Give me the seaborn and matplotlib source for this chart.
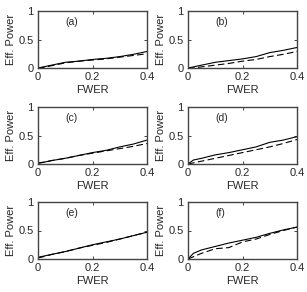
import numpy as np
import pandas as pd
import seaborn as sns
import matplotlib.pyplot as plt

# FWER grid shared by all panels
fwer = [0.0, 0.02, 0.05, 0.1, 0.15, 0.2, 0.25, 0.3, 0.35, 0.4]

# effective power, solid curve and dashed curve, per panel
solid_a = [0.0, 0.02, 0.05, 0.10, 0.12, 0.15, 0.17, 0.20, 0.24, 0.29]
dash_a = [0.0, 0.01, 0.04, 0.09, 0.12, 0.14, 0.16, 0.19, 0.22, 0.25]
solid_b = [0.0, 0.02, 0.05, 0.10, 0.13, 0.16, 0.20, 0.27, 0.31, 0.36]
dash_b = [0.0, 0.0, 0.02, 0.05, 0.08, 0.12, 0.15, 0.20, 0.24, 0.29]
solid_c = [0.02, 0.03, 0.06, 0.10, 0.15, 0.20, 0.24, 0.30, 0.35, 0.42]
dash_c = [0.01, 0.03, 0.06, 0.10, 0.15, 0.19, 0.23, 0.27, 0.31, 0.36]
solid_d = [0.0, 0.07, 0.10, 0.16, 0.20, 0.25, 0.30, 0.38, 0.42, 0.48]
dash_d = [0.0, 0.02, 0.05, 0.10, 0.15, 0.20, 0.25, 0.30, 0.36, 0.43]
solid_e = [0.03, 0.05, 0.08, 0.13, 0.19, 0.25, 0.30, 0.35, 0.41, 0.47]
dash_e = [0.02, 0.04, 0.08, 0.13, 0.19, 0.24, 0.29, 0.35, 0.41, 0.47]
solid_f = [0.0, 0.10, 0.16, 0.22, 0.28, 0.33, 0.38, 0.45, 0.51, 0.56]
dash_f = [0.0, 0.04, 0.10, 0.18, 0.20, 0.30, 0.35, 0.43, 0.50, 0.56]

panels = ["(a)", "(b)", "(c)", "(d)", "(e)", "(f)"]
solids = [solid_a, solid_b, solid_c, solid_d, solid_e, solid_f]
dashes = [dash_a, dash_b, dash_c, dash_d, dash_e, dash_f]

sns.set_style("white")
plt.rcParams["font.family"] = ["Liberation Sans", "DejaVu Sans"]
plt.rcParams["font.size"] = 8

fig = plt.figure(figsize=(3.07, 2.92), dpi=100)
W, H = 307, 292
lefts = [38, 188]
tops = [11, 107, 202]
aw, ah = 109, 57

for i in range(6):
  r, c = divmod(i, 2)
  ax = fig.add_axes([lefts[c] / W, 1 - (tops[r] + ah) / H, aw / W, ah / H])
  df = pd.DataFrame({"FWER": fwer, "solid": solids[i], "dash": dashes[i]})
  sns.lineplot(data=df, x="FWER", y="solid", color="k", lw=0.8, ax=ax)
  sns.lineplot(data=df, x="FWER", y="dash", color="k", lw=0.8, ax=ax,
               linestyle=(0, (6, 3)))
  ax.set_xlim(0, 0.4)
  ax.set_ylim(0, 1)
  ax.set_xticks([0, 0.2, 0.4])
  ax.set_xticklabels(["0", "0.2", "0.4"])
  ax.set_yticks([0, 0.5, 1])
  ax.set_yticklabels(["0", "0.5", "1"])
  ax.tick_params(direction="in", length=2, width=0.6, pad=3,
                 top=True, right=True, bottom=True, left=True)
  for s in ax.spines.values():
    s.set_color("#444444")
    s.set_linewidth(1.0)
  ax.set_xlabel("FWER", labelpad=2)
  ax.set_ylabel("Eff. Power", labelpad=2)
  ax.text(0.1, 0.75, panels[i], fontsize=7.5)

fig.savefig("out.png", dpi=100)
